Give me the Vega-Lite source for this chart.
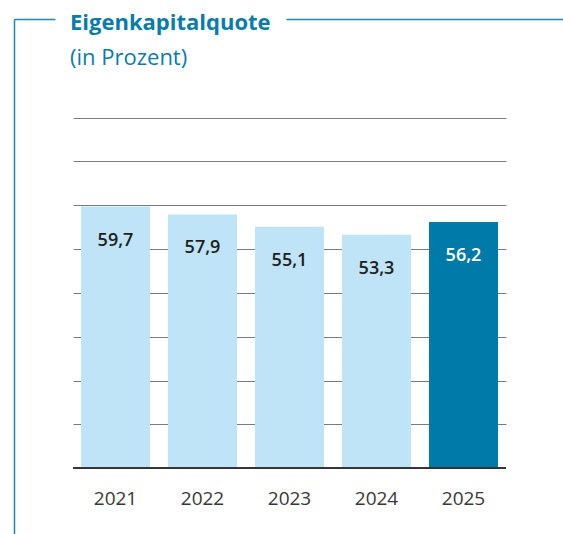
{
  "$schema": "https://vega.github.io/schema/vega-lite/v6.json",
  "width": 433,
  "height": 515,
  "autosize": {"type": "none"},
  "padding": {"left": 73, "top": 19, "right": 57, "bottom": 0},
  "background": "white",
  "title": {
    "text": "Eigenkapitalquote",
    "subtitle": "(in Prozent)",
    "anchor": "start",
    "frame": "group",
    "offset": -52,
    "dx": -3,
    "font": "Open Sans",
    "fontSize": 22,
    "fontWeight": "bold",
    "color": "#0a7cab",
    "subtitleFont": "Open Sans",
    "subtitleFontSize": 22,
    "subtitleFontWeight": "normal",
    "subtitleColor": "#0a7cab",
    "subtitlePadding": 13
  },
  "config": {
    "view": {"stroke": null},
    "locale": {"number": {"decimal": ",", "thousands": ".", "grouping": [3], "currency": ["", " €"]}}
  },
  "data": {
    "values": [
      {"year": "2021", "value": 59.7},
      {"year": "2022", "value": 57.9},
      {"year": "2023", "value": 55.1},
      {"year": "2024", "value": 53.3},
      {"year": "2025", "value": 56.2}
    ]
  },
  "layer": [
    {
      "mark": {"type": "bar"},
      "encoding": {
        "x": {
          "field": "year", "type": "nominal", "sort": null,
          "scale": {"paddingInner": 0.207, "paddingOuter": 0.092},
          "axis": {"orient": "bottom", "offset": -65, "title": null, "domain": false, "ticks": false, "tickSize": 0,
                   "labelPadding": 20, "labelAngle": 0, "labelFontSize": 19, "labelColor": "#383838",
                   "labelFont": "Open Sans", "grid": false}
        },
        "y": {
          "field": "value", "type": "quantitative",
          "scale": {"domain": [-15, 102.5], "nice": false, "zero": false},
          "axis": {"orient": "left", "values": [10, 20, 30, 40, 50, 60, 70, 80], "grid": true,
                   "gridColor": "#7a7a7a", "gridWidth": 1.2, "domain": false, "ticks": false,
                   "labels": false, "title": null}
        },
        "y2": {"datum": 0},
        "color": {"condition": {"test": "datum.year === '2025'", "value": "#007aa8"}, "value": "#bfe4f8"}
      }
    },
    {
      "mark": {"type": "text", "baseline": "middle", "dy": 34, "fontSize": 18, "fontWeight": 600, "font": "Open Sans"},
      "encoding": {
        "x": {
          "field": "year", "type": "nominal", "sort": null,
          "axis": {"orient": "bottom", "offset": -65, "title": null, "domain": false, "ticks": false, "tickSize": 0,
                   "labelPadding": 20, "labelAngle": 0, "labelFontSize": 19, "labelColor": "#383838",
                   "labelFont": "Open Sans", "grid": false}
        },
        "y": {
          "field": "value", "type": "quantitative",
          "axis": {"orient": "left", "offset": 59, "values": [102.5], "domain": true, "domainColor": "#1f88b5",
                   "domainWidth": 1.5, "ticks": true, "tickSize": -41, "tickColor": "#1f88b5", "tickWidth": 1.5,
                   "labels": false, "grid": false, "title": null}
        },
        "text": {"field": "value", "type": "quantitative", "format": ".1f"},
        "color": {"condition": {"test": "datum.year === '2025'", "value": "#ffffff"}, "value": "#1e1e1e"}
      }
    },
    {
      "mark": {"type": "rule", "color": "#333333", "strokeWidth": 1.5},
      "encoding": {
        "y": {
          "datum": 0, "type": "quantitative",
          "axis": {"orient": "right", "offset": 57, "values": [102.5], "domain": false, "ticks": true,
                   "tickSize": -277, "tickColor": "#1f88b5", "tickWidth": 1.5, "labels": false, "grid": false, "title": null}
        }
      }
    }
  ],
  "resolve": {"axis": {"y": "independent"}}
}
